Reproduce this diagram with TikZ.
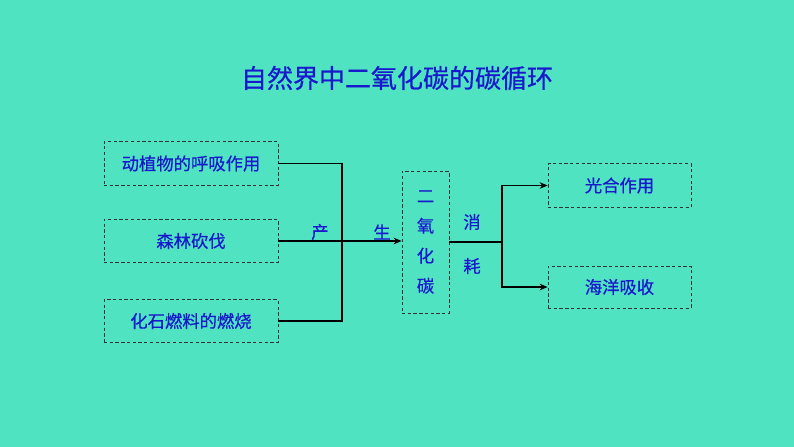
\documentclass[tikz,border=0pt]{standalone}
\usepackage{fontspec}
\usepackage{xcolor}
\usepackage{tikz}
\usetikzlibrary{arrows.meta,positioning,calc}
\newfontfamily\cjk[FakeBold=0.5]{Noto Sans CJK SC}
\definecolor{bgteal}{RGB}{80,227,194}
\definecolor{inkblue}{RGB}{24,24,204}

\tikzset{
  dashbox/.style={draw=black!80, dashed, dash pattern=on 2.5pt off 1.8pt, line width=0.6pt,
    text=inkblue, font=\cjk\fontsize{13}{15}\selectfont, inner sep=0pt},
  link/.style={line width=0.8pt, black},
  tag/.style={text=inkblue, font=\cjk\fontsize{13}{15}\selectfont}
}

\begin{document}
\begin{tikzpicture}[x=0.75pt, y=-0.75pt]
% Background
\fill[bgteal] (0,0) rectangle (794,447);
\useasboundingbox (0,0) rectangle (794,447);

% Title
\node[text=inkblue, font=\cjk\fontsize{19.5}{22}\selectfont] (title) at (397,78) {自然界中二氧化碳的碳循环};

% Sources
\node[dashbox, minimum width=130.5pt, minimum height=32.5pt] (resp) at (191,163.5) {动植物的呼吸作用};
\node[dashbox, minimum width=130.5pt, minimum height=32.5pt] (forest) at (191,241) {森林砍伐};
\node[dashbox, minimum width=130.5pt, minimum height=32pt] (fossil) at (191,321) {化石燃料的燃烧};

% Carbon dioxide
\node[dashbox, minimum width=35.25pt, minimum height=106.5pt, align=center,
  font=\cjk\fontsize{13}{22.5}\selectfont] (co2) at (425.5,242) {二\\氧\\化\\碳};

% Sinks
\node[dashbox, minimum width=107.25pt, minimum height=32.5pt] (photo) at (619.5,185.5) {光合作用};
\node[dashbox, minimum width=107.25pt, minimum height=31.5pt] (ocean) at (619.5,287) {海洋吸收};

% Junctions
\coordinate (junL) at (342,241);
\coordinate (junR) at (502,242);

% Production
\draw[link] (resp.east) -- (resp.east -| junL) -- (fossil.east -| junL) -- (fossil.east);
\draw[link, -{Stealth[length=6pt, width=5pt]}] (forest.east) -- (forest.east -| co2.west);
\node[tag] (chan) at (320,232) {产};
\node[tag] (sheng) at (382,232) {生};

% Consumption
\draw[link] (co2.east) -- (junR);
\draw[link, -{Stealth[length=6pt, width=5pt]}] (junR) |- (photo.west);
\draw[link, -{Stealth[length=6pt, width=5pt]}] (junR) |- (ocean.west);
\node[tag] (xiao) at (472,222) {消};
\node[tag] (hao) at (472,266) {耗};
\end{tikzpicture}
\end{document}
